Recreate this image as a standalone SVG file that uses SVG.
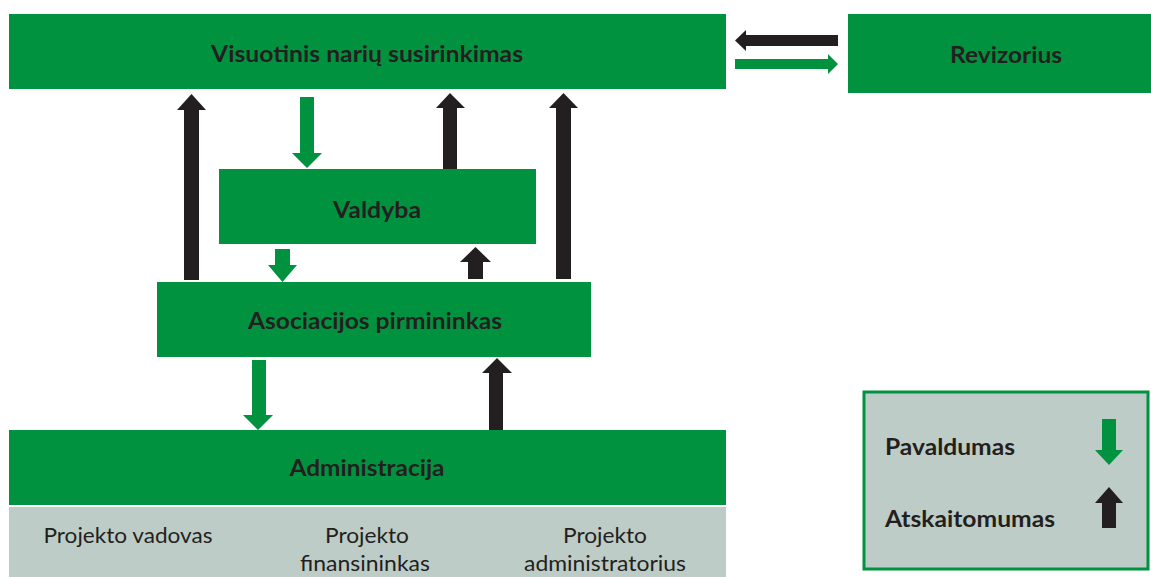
<svg xmlns="http://www.w3.org/2000/svg" width="1151" height="577" viewBox="0 0 1151 577">
<style>
.box{fill:#00923f}
.grey{fill:#bdccc6}
.legend{fill:#bdccc6;stroke:#00923f;stroke-width:3}
.t{font-family:Lato,"Open Sans","Liberation Sans",sans-serif;font-weight:bold;font-size:23px;fill:#231f20;text-anchor:middle}
.s{font-family:Lato,"Open Sans","Liberation Sans",sans-serif;font-size:22px;fill:#231f20;text-anchor:middle}
.l{font-family:Lato,"Open Sans","Liberation Sans",sans-serif;font-weight:bold;font-size:23px;fill:#231f20}
.ga{fill:#00923f}
.ba{fill:#231f20}
</style>
<rect width="1151" height="577" fill="#ffffff"/>
<g id="visuotinis">
<rect class="box" x="9" y="14" width="717" height="75"/>
<text class="t" x="367" y="62" textLength="312" lengthAdjust="spacingAndGlyphs">Visuotinis narių susirinkimas</text>
</g>
<g id="revizorius">
<rect class="box" x="848" y="14" width="303" height="79"/>
<text class="t" x="1006" y="63" textLength="112" lengthAdjust="spacingAndGlyphs">Revizorius</text>
</g>
<g id="valdyba">
<rect class="box" x="219" y="169" width="317" height="75"/>
<text class="t" x="377" y="218" textLength="88" lengthAdjust="spacingAndGlyphs">Valdyba</text>
</g>
<g id="pirmininkas">
<rect class="box" x="157" y="282" width="434" height="75"/>
<text class="t" x="375" y="329" textLength="254" lengthAdjust="spacingAndGlyphs">Asociacijos pirmininkas</text>
</g>
<g id="administracija">
<rect class="box" x="9" y="430" width="717" height="75"/>
<text class="t" x="367" y="476" textLength="155" lengthAdjust="spacingAndGlyphs">Administracija</text>
</g>
<g id="projektai">
<rect class="grey" x="9" y="507" width="717" height="70"/>
<text class="s" x="128" y="543" textLength="169" lengthAdjust="spacingAndGlyphs">Projekto vadovas</text>
<text class="s" x="367" y="543" textLength="84" lengthAdjust="spacingAndGlyphs">Projekto</text>
<text class="s" x="365" y="571" textLength="130" lengthAdjust="spacingAndGlyphs">finansininkas</text>
<text class="s" x="605" y="543" textLength="84" lengthAdjust="spacingAndGlyphs">Projekto</text>
<text class="s" x="605" y="571" textLength="162" lengthAdjust="spacingAndGlyphs">administratorius</text>
</g>
<g id="legenda">
<rect class="legend" x="864" y="392" width="284" height="177"/>
<text class="l" x="885" y="455" textLength="130" lengthAdjust="spacingAndGlyphs">Pavaldumas</text>
<text class="l" x="885" y="527" textLength="170" lengthAdjust="spacingAndGlyphs">Atskaitomumas</text>
<polygon class="ga" points="1102,419 1116,419 1116,450 1123,450 1109,465 1095,450 1102,450"/>
<polygon class="ba" points="1102,528 1116,528 1116,503 1123,503 1109,487 1095,503 1102,503"/>
</g>
<g id="connectors">
<polygon class="ba" points="838,35 838,46 746,46 746,51 735,40.5 746,30 746,35"/>
<polygon class="ga" points="735,59 828,59 828,54 838,64 828,74 828,69 735,69"/>
<polygon class="ba" points="184,280 199,280 199,110 206,110 191.5,94 177,110 184,110"/>
<polygon class="ga" points="300,97 314,97 314,153 322,153 307,168 292,153 300,153"/>
<polygon class="ba" points="443,169 457,169 457,108 465,108 450,93 436,108 443,108"/>
<polygon class="ba" points="556,279 571,279 571,108 578,108 563.5,93 549,108 556,108"/>
<polygon class="ga" points="275,249 290,249 290,265 297,265 282.5,282 268,265 275,265"/>
<polygon class="ba" points="468,279 483,279 483,262 491,262 475.5,247 460,262 468,262"/>
<polygon class="ga" points="252,360 266,360 266,415 273,415 258,430 243,415 252,415"/>
<polygon class="ba" points="489,430 503,430 503,373 512,373 497,358 482,373 489,373"/>
</g>
</svg>
